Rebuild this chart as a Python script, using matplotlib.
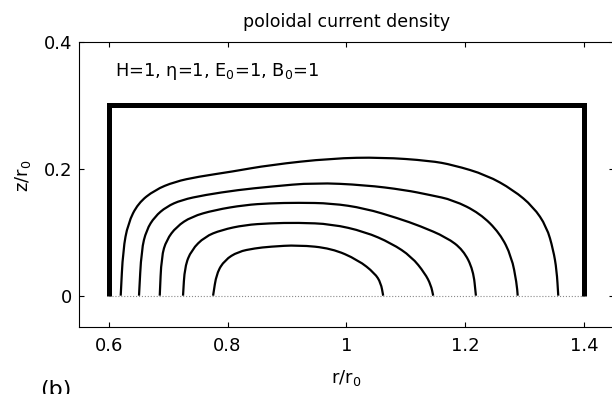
import matplotlib
matplotlib.use("Agg")
import matplotlib.pyplot as plt
from matplotlib.path import Path
from matplotlib.patches import PathPatch

plt.rcParams["font.family"] = ["DejaVu Sans"]
plt.rcParams["mathtext.fontset"] = "dejavusans"

# Conductor boundary (r/r0, z/r0)
wall_r = [0.6, 0.6, 1.4, 1.4]
wall_z = [0.0, 0.3, 0.3, 0.0]

# Poloidal current density contours, outermost to innermost
c1_r = [0.6202, 0.6241, 0.6325, 0.6493, 0.6775, 0.7112, 0.7504, 0.8067, 0.8712,
        0.9751, 1.0593, 1.1406, 1.1799, 1.2361, 1.2809, 1.3146, 1.3372, 1.3483,
        1.3540, 1.3567]
c1_z = [0.0, 0.0721, 0.1141, 0.1457, 0.1667, 0.1797, 0.1876, 0.1955, 0.2061,
        0.2166, 0.2182, 0.2128, 0.2061, 0.1903, 0.1667, 0.1403, 0.1088, 0.0721,
        0.0405, 0.0]

c2_r = [0.6510, 0.6551, 0.6635, 0.6775, 0.6972, 0.7224, 0.7617, 0.8178, 0.8712,
        0.9469, 1.0312, 1.0985, 1.1406, 1.1799, 1.2248, 1.2585, 1.2782, 1.2867,
        1.2884]
c2_z = [0.0, 0.0721, 0.1036, 0.1246, 0.1403, 0.1509, 0.1588, 0.1667, 0.1719,
        0.1782, 0.1745, 0.1667, 0.1588, 0.1509, 0.1299, 0.0984, 0.0615, 0.0196,
        0.0]

c3_r = [0.6859, 0.6888, 0.6972, 0.7140, 0.7393, 0.7785, 0.8291, 0.8712, 0.9188,
        0.9751, 1.0312, 1.0872, 1.1238, 1.1688, 1.1967, 1.2136, 1.2181]
c3_z = [0.0, 0.0615, 0.0878, 0.1088, 0.1246, 0.1351, 0.1430, 0.1457, 0.1466,
        0.1457, 0.1378, 0.1220, 0.1100, 0.0920, 0.0721, 0.0405, 0.0]

c4_r = [0.7251, 0.7280, 0.7393, 0.7617, 0.7898, 0.8291, 0.8712, 0.9188, 0.9751,
        1.0312, 1.0761, 1.1098, 1.1322, 1.1423, 1.1462]
c4_z = [0.0, 0.0457, 0.0721, 0.0930, 0.1036, 0.1115, 0.1142, 0.1151, 0.1130,
        0.1009, 0.0826, 0.0615, 0.0353, 0.0169, 0.0]

c5_r = [0.7757, 0.7815, 0.7954, 0.8178, 0.8459, 0.8712, 0.9188, 0.9751, 1.0199,
        1.0480, 1.0581, 1.0620]
c5_z = [0.0, 0.0353, 0.0563, 0.0694, 0.0747, 0.0773, 0.0799, 0.0747, 0.0563,
        0.0353, 0.0200, 0.0]

contours = [(c1_r, c1_z), (c2_r, c2_z), (c3_r, c3_z), (c4_r, c4_z), (c5_r, c5_z)]

x_ticks = [0.6, 0.8, 1.0, 1.2, 1.4]
x_tick_labels = ["0.6", "0.8", "1", "1.2", "1.4"]
y_ticks = [0.0, 0.2, 0.4]
y_tick_labels = ["0", "0.2", "0.4"]


def smooth_path(r, z):
    """Quadratic Bezier path using the sampled points as control points."""
    pts = list(zip(r, z))
    verts = [pts[0]]
    codes = [Path.MOVETO]
    mid = lambda a, b: ((a[0] + b[0]) / 2, (a[1] + b[1]) / 2)
    verts.append(mid(pts[0], pts[1]))
    codes.append(Path.LINETO)
    for i in range(1, len(pts) - 1):
        verts += [pts[i], mid(pts[i], pts[i + 1])]
        codes += [Path.CURVE3, Path.CURVE3]
    verts.append(pts[-1])
    codes.append(Path.LINETO)
    return Path(verts, codes)


fig = plt.figure(figsize=(6.12, 3.94), dpi=100)
ax = fig.add_axes([79 / 612, 66.6 / 394, 534.7 / 612, 285.4 / 394])

# symmetry plane
ax.plot([wall_r[0], wall_r[-1]], [0, 0], color="#8a8a8a", lw=0.8, ls=":")

for r, z in contours:
    ax.add_patch(PathPatch(smooth_path(r, z), fill=False, edgecolor="black",
                           lw=1.6, joinstyle="round", capstyle="butt"))

ax.plot(wall_r, wall_z, color="black", lw=3.6, solid_joinstyle="miter",
        solid_capstyle="butt")

ax.set_xlim(0.55, 1.45)
ax.set_ylim(-0.05, 0.4)
ax.set_xticks(x_ticks)
ax.set_xticklabels(x_tick_labels)
ax.set_yticks(y_ticks)
ax.set_yticklabels(y_tick_labels)
ax.tick_params(direction="in", length=3.6, width=0.8, top=True, right=True,
               labelsize=13)
ax.tick_params(axis="x", pad=7)
ax.tick_params(axis="y", pad=5)
for s in ax.spines.values():
    s.set_linewidth(0.8)

ax.set_title("poloidal current density", fontsize=12.5, pad=10.8)
ax.set_xlabel("r/r$_0$", fontsize=13, va="baseline")
ax.xaxis.set_label_coords(0.5, -0.195)
ax.set_ylabel("z/r$_0$", fontsize=13)
ax.yaxis.set_label_coords(-0.086, 0.53)

ax.text(0.61, 0.346, "H=1, \u03b7=1, E$_0$=1, B$_0$=1", fontsize=12.8,
        va="baseline", ha="left")

fig.text(40.5 / 612, -2 / 394, "(b)", fontsize=16, va="baseline", ha="left")

fig.savefig("out.png", dpi=100)
